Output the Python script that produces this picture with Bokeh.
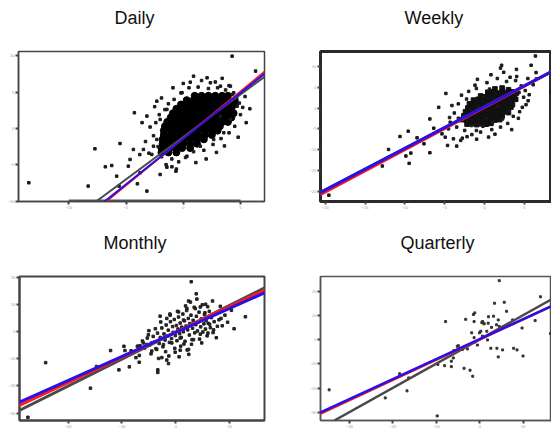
from bokeh.plotting import figure
from bokeh.layouts import column, row
from bokeh.models import FixedTicker, Slope
from bokeh.embed import file_html
from bokeh.resources import INLINE

# ---------------- Daily ----------------
daily_xticks = [-10, -5, 0, 5]
daily_yticks = [-10, -5, 0, 5, 10]
daily_points = [
    (-13.5, -7.48), (4.27, 9.96), (6.32, 7.9), (5.82, 2.71), (-7.72, -2.8), (-8.31, -7.94),
    (-5.53, -2.07), (-4.27, 2.16), (-2.31, 3.76), (-3.18, 1.7), (-6.81, -5.28), (-6.25, -5.1),
    (-5.82, -6.57), (-5.61, -7.94), (-4.8, -5.19), (-4.01, -7.62), (-3.18, -8.63), (-3.77, -6.11),
    (-4.65, -4.27), (-4.36, -2.89), (-2.75, -3.58), (-2.02, -6.34), (-0.99, -5.28), (-0.64, -5.88),
    (-1.43, -5.33), (0.61, 6.38), (2.08, 6.98), (2.37, 6.29), (3.25, 5.83), (4.12, 5.83),
    (4.41, 4.92), (4.71, 3.07), (4.12, 1.24), (3.25, 1.7), (3.54, -0.59), (2.66, -1.52),
    (1.49, -2.44), (0.32, -3.82), (4.71, 4.46), (-0.11, 4.92), (-1.43, 2.62), (-2.02, 1.24),
    (-2.31, -1.52), (-2.6, -2.44), (-3.48, -2.89),
    (-2.6, -1.0), (-2.4, 0.8), (-2.2, -2.5), (-2.1, 1.9), (-1.9, -3.9), (-1.6, 2.6), (-1.3, 3.4),
    (-1.0, -4.2), (-0.8, 4.0), (-0.4, -4.6), (-0.2, 4.9), (0.2, -4.0), (0.5, 5.6), (0.9, -3.2),
    (1.3, 5.7), (1.8, -3.0), (2.2, 5.5), (2.6, -2.2), (3.0, 5.6), (3.3, -1.4), (3.7, 5.3),
    (4.0, -0.6), (4.3, 4.7), (4.5, 0.3), (4.9, 3.5), (5.0, 1.9), (5.2, 2.9), (3.6, -2.4),
    (2.0, -4.2), (-1.5, -5.0), (-2.9, 0.2), (-3.3, -1.8), (-3.0, -3.4), (-2.5, 3.0), (0.0, 6.2),
    (1.6, 6.6), (2.8, 6.4), (4.0, 5.9), (5.4, 4.4), (5.5, 0.8), (4.8, -1.2), (2.9, -3.3),
    (1.1, -4.7), (-0.6, -5.6), (-3.8, -3.6), (-3.6, 0.8), (-1.9, 4.2), (3.4, 6.9), (0.9, 7.2),
    (-0.9, 5.6),
]
daily_core = [
    (1.0, 4.5), (1.6, 4.5), (2.2, 4.5), (2.8, 4.5), (3.4, 4.5), (3.9, 4.5),
    (0.3, 3.9), (0.9, 3.9), (1.5, 3.9), (2.1, 3.9), (2.7, 3.9), (3.3, 3.9), (3.9, 3.9), (4.5, 3.9),
    (-0.2, 3.3), (0.4, 3.3), (1.0, 3.3), (1.6, 3.3), (2.2, 3.3), (2.8, 3.3), (3.4, 3.3), (4.0, 3.3), (4.5, 3.3),
    (-0.6, 2.7), (0.0, 2.7), (0.6, 2.7), (1.2, 2.7), (1.8, 2.7), (2.4, 2.7), (3.0, 2.7), (3.6, 2.7), (4.2, 2.7),
    (-0.9, 2.1), (-0.3, 2.1), (0.3, 2.1), (0.9, 2.1), (1.5, 2.1), (2.1, 2.1), (2.7, 2.1), (3.3, 2.1), (3.9, 2.1), (4.4, 2.1),
    (-1.1, 1.5), (-0.5, 1.5), (0.1, 1.5), (0.7, 1.5), (1.3, 1.5), (1.9, 1.5), (2.5, 1.5), (3.1, 1.5), (3.7, 1.5), (4.2, 1.5),
    (-1.4, 0.9), (-0.8, 0.9), (-0.2, 0.9), (0.4, 0.9), (1.0, 0.9), (1.6, 0.9), (2.2, 0.9), (2.8, 0.9), (3.4, 0.9), (3.9, 0.9),
    (-1.6, 0.3), (-1.0, 0.3), (-0.4, 0.3), (0.2, 0.3), (0.8, 0.3), (1.4, 0.3), (2.0, 0.3), (2.6, 0.3), (3.2, 0.3),
    (-1.7, -0.3), (-1.1, -0.3), (-0.5, -0.3), (0.1, -0.3), (0.7, -0.3), (1.3, -0.3), (1.9, -0.3), (2.5, -0.3), (3.0, -0.3),
    (-1.7, -0.9), (-1.1, -0.9), (-0.5, -0.9), (0.1, -0.9), (0.7, -0.9), (1.3, -0.9), (1.9, -0.9), (2.5, -0.9),
    (-1.8, -1.5), (-1.2, -1.5), (-0.6, -1.5), (0.0, -1.5), (0.6, -1.5), (1.2, -1.5), (1.8, -1.5),
    (-1.8, -2.1), (-1.2, -2.1), (-0.6, -2.1), (0.0, -2.1), (0.6, -2.1), (1.2, -2.1),
    (-1.9, -2.7), (-1.3, -2.7), (-0.7, -2.7), (-0.1, -2.7), (0.6, -2.7),
    (-1.9, -3.3), (-1.3, -3.3), (-0.6, -3.3),
]
daily_axis_seg_x = [-10, 5]
daily_axis_seg_y = [-10, -10]
daily_slopes = [1.167, 1.292, 1.258]        # gray, red, blue
daily_intercepts = [-1.17, -1.36, -1.40]

# ---------------- Weekly ----------------
weekly_xticks = [-20, -15, -10, -5, 0, 5]
weekly_yticks = [-20, -15, -10, -5, 0, 5, 10]
weekly_points = [
    (-19.55, -20.97), (-12.84, -13.96), (-12.06, -9.97), (-10.62, -6.86), (-9.59, -5.58),
    (-9.88, -11.56), (-9.47, -13.32), (-9.26, -10.85), (-8.48, -7.18), (-7.61, -8.61),
    (-6.87, -10.77), (-6.87, -2.63), (-5.76, 0.16), (-4.86, 3.51), (-3.5, -9.17), (-4.65, -9.01),
    (-5.35, -6.22), (-4.94, -7.02), (-6.38, -4.86), (-4.53, -5.02), (-3.91, -7.42), (-2.8, -7.26),
    (6.38, 12.52), (5.84, 10.29), (2.14, 10.29), (6.46, 8.53), (8.31, 3.99), (5.47, 1.75),
    (4.24, -2.47), (5.97, 6.14), (5.43, 7.1), (4.03, 7.58), (4.32, 3.75), (4.73, 0.16),
    (2.76, 6.38), (0.62, 4.55), (-1.03, 4.7), (-2.26, 2.15), (-2.67, -1.67), (-1.65, -4.23),
    (-1.03, -5.42), (-0.21, -4.39), (1.03, -3.43), (2.26, -2.63), (3.09, -0.64), (-4.32, -3.43),
    (-3.29, -2.47),
    (-3.8, -1.2), (-3.5, -4.6), (-3.3, 1.0), (-2.9, 3.1), (-2.5, -5.4), (-2.0, 4.0), (-1.2, 5.5),
    (-0.5, -5.8), (0.3, 6.1), (0.9, -5.2), (1.6, 7.1), (2.0, -4.6), (3.2, 7.4), (2.9, -3.7),
    (3.9, 6.6), (3.6, -2.0), (4.6, 5.3), (4.4, -0.9), (4.9, 2.6), (5.1, 4.2), (5.6, 3.2),
    (5.2, 0.8), (-4.1, 0.6), (-4.4, -2.3), (-1.6, -6.4), (1.3, -6.3), (2.4, 8.6), (0.8, 8.0),
    (-0.9, 6.9), (6.1, 5.6), (3.4, -5.2), (-2.2, -6.9), (-3.0, -7.8), (-1.0, -7.5), (0.5, -7.0),
    (4.0, 9.3), (2.0, 9.6), (6.5, 7.0),
]
weekly_core = [
    (1.3, 4.6), (2.2, 4.8), (3.0, 4.4),
    (0.4, 3.8), (1.0, 3.9), (1.6, 3.6), (2.2, 3.9), (2.8, 3.7), (3.4, 3.9), (4.0, 3.6),
    (-0.5, 2.9), (0.1, 2.7), (0.7, 3.0), (1.3, 2.8), (1.9, 2.9), (2.5, 2.7), (3.1, 3.0), (3.7, 2.8),
    (-1.4, 1.9), (-0.8, 2.1), (-0.2, 1.8), (0.4, 2.0), (1.0, 1.9), (1.6, 2.1), (2.2, 1.8), (2.8, 2.0), (3.4, 1.9), (3.9, 2.1),
    (-1.9, 1.0), (-1.3, 0.8), (-0.7, 1.1), (-0.1, 0.9), (0.5, 1.0), (1.1, 0.8), (1.7, 1.1), (2.3, 0.9), (2.9, 1.0), (3.5, 0.8),
    (-2.1, 0.0), (-1.5, 0.2), (-0.9, -0.1), (-0.3, 0.1), (0.3, 0.0), (0.9, 0.2), (1.5, -0.1), (2.1, 0.1), (2.7, 0.0), (3.3, 0.2),
    (-2.4, -0.9), (-1.8, -1.1), (-1.2, -0.8), (-0.6, -1.0), (0.0, -0.9), (0.6, -1.1), (1.2, -0.8), (1.8, -1.0), (2.4, -0.9), (3.0, -1.1),
    (-2.6, -1.9), (-2.0, -1.7), (-1.4, -2.0), (-0.8, -1.8), (-0.2, -1.9), (0.4, -1.7), (1.0, -2.0), (1.6, -1.8), (2.2, -1.9),
    (-2.9, -2.8), (-2.3, -3.0), (-1.7, -2.7), (-1.1, -2.9), (-0.5, -2.8), (0.1, -3.0), (0.7, -2.7), (1.3, -2.9), (1.9, -2.8),
    (-2.2, -3.9), (-1.6, -3.7), (-1.0, -4.0), (-0.4, -3.8), (0.2, -3.9), (0.8, -3.7),
]
weekly_slopes = [1.0, 1.019, 1.003]
weekly_intercepts = [0.3, 0.19, 0.33]

# ---------------- Monthly ----------------
monthly_xticks = [-20, -10, 0, 10]
monthly_yticks = [-30, -20, -10, 0, 10, 20]
monthly_points = [
    (-27.44, -31.54), (-24.15, -11.44), (-15.84, -20.82), (-14.72, -12.89), (-12.11, -7.0),
    (-10.56, -14.1), (-9.63, -5.43), (-9.44, -7.0), (-8.63, -13.0), (-6.77, -8.8), (-6.65, -5.2),
    (-5.41, -4.8), (-5.1, -1.24), (-3.35, -14.1), (-3.35, -15.03), (-2.6, -9.6), (-1.68, -10.5),
    (-1.37, -11.8), (2.85, 18.28), (3.78, 13.83), (2.36, 11.18), (4.53, 9.0), (5.52, 10.0),
    (5.39, 6.85), (8.25, 9.25), (8.37, 4.8), (12.9, 5.4), (14.58, 12.86), (6.27, 2.64),
    (4.53, -0.97), (2.36, -6.6), (0.8, -6.87), (-0.13, -7.6), (0.8, -2.4), (-2.92, 5.64),
    (-1.06, 6.0), (-4.47, -4.2), (-3.54, -6.6), (-2.3, -4.8), (-0.75, -4.2), (1.42, 4.2),
    (2.05, 8.4), (3.6, 8.4), (0.49, 7.2), (-1.68, 4.8), (-4.47, -7.2), (-6.02, -4.2),
    (-7.14, -5.4), (5.95, -0.6), (7.0, 0.6), (3.28, -3.0),
    (-6.2, -3.5), (-5.8, -6.1), (-5.3, -2.4), (-4.9, -5.0), (-4.6, -8.2), (-4.2, -1.8),
    (-4.0, -3.9), (-3.7, -6.3), (-3.4, -0.6), (-3.1, -4.4), (-2.9, -2.2), (-2.6, 1.3),
    (-2.4, -5.6), (-2.2, -0.9), (-2.0, -3.1), (-1.8, 2.4), (-1.6, -1.7), (-1.4, 0.5),
    (-1.2, -4.0), (-1.0, 3.6), (-0.8, -2.6), (-0.6, 1.8), (-0.5, -0.3), (-0.3, 4.4),
    (-0.1, -1.5), (0.1, 2.2), (0.2, -3.4), (0.4, 0.9), (0.5, 5.3), (0.7, -0.8), (0.8, 3.1),
    (1.0, -2.2), (1.1, 1.6), (1.3, 6.4), (1.4, -0.1), (1.6, 3.9), (1.7, -3.6), (1.9, 2.0),
    (2.0, 7.7), (2.2, 0.6), (2.3, 4.8), (2.5, -1.3), (2.6, 2.9), (2.8, 6.0), (2.9, -4.7),
    (3.1, 1.2), (3.2, 4.1), (3.4, 8.9), (3.5, -0.5), (3.7, 2.5), (3.8, 5.6), (4.0, 0.2),
    (4.1, 3.4), (4.3, 7.1), (4.4, -2.8), (4.6, 1.7), (4.7, 4.6), (4.9, 9.8), (5.0, -0.2),
    (5.2, 2.8), (5.3, 6.2), (5.5, 0.9), (5.6, 4.0), (5.8, -1.6), (6.0, 3.0), (6.2, 7.4),
    (6.4, 1.4), (6.6, 5.1), (6.9, -0.4), (7.1, 3.6), (7.4, 6.7), (7.7, 1.9), (8.0, 4.3),
    (8.6, 2.1), (9.1, 6.0), (9.6, 3.4), (10.3, 7.8), (10.8, 1.0), (-0.2, -6.2), (0.9, -5.4),
    (2.1, -6.8), (-1.9, -7.4), (3.0, -3.0), (1.5, -4.6), (-2.8, 3.5), (-3.8, 1.0), (-5.0, 0.3),
    (0.3, 7.4), (1.8, 9.4), (2.7, 10.8), (3.9, 11.9), (-1.1, 6.4), (5.9, 9.1), (6.8, 11.2),
    (4.8, -4.2), (7.5, -2.3), (-7.4, -9.6), (-8.3, -7.1), (-6.8, -11.3), (-3.2, -9.9),
    (-1.3, -9.0), (0.6, -9.3), (2.4, -8.4),
]
monthly_slopes = [0.990, 0.931, 0.884]
monthly_intercepts = [-0.27, -0.17, -0.34]

# ---------------- Quarterly ----------------
quarterly_xticks = [-30, -20, -10, 0, 10]
quarterly_yticks = [-30, -20, -10, 0, 10, 20]
quarterly_points = [
    (-34.68, -20.76), (-21.77, -24.1), (-18.45, -14.07), (-16.76, -21.18), (-16.37, -15.8),
    (-9.81, -31.6), (-9.65, -10.19), (-7.88, 7.62), (-8.11, -10.72), (-6.56, -8.85),
    (-6.56, -11.1), (-6.1, -7.5), (-5.95, -4.43), (-5.18, -2.69), (-4.94, -2.42), (-3.63, -11.8),
    (-3.25, 8.56), (-2.25, -12.6), (-1.87, 2.93), (-1.63, -15.1), (-1.47, 10.56), (-1.16, 11.23),
    (-1.32, 7.62), (-1.32, -1.08), (-0.55, -2.15), (-0.08, 2.93), (0.22, 3.6), (0.46, 7.22),
    (0.61, 7.62), (0.61, 1.59), (0.84, 6.95), (1.0, 6.68), (1.61, 3.6), (2.0, 9.62),
    (1.92, 6.95), (2.54, -3.48), (3.16, 9.88), (3.39, 15.25), (3.85, 6.28), (3.93, -3.48),
    (4.24, -7.08), (4.47, 24.62), (4.47, 5.61), (5.24, -4.16), (5.62, 15.65), (6.16, 11.9),
    (7.55, 8.29), (7.79, -3.48), (8.56, -4.16), (9.72, 4.94), (9.95, -6.69), (12.73, 8.02),
    (13.96, 17.92), (16.28, 2.66), (17.58, 16.85), (1.77, -0.01), (-4.02, -4.0), (-2.86, -3.75),
    (-1.32, 0.92), (2.69, 5.21), (4.24, 8.29),
]
quarterly_slopes = [1.007, 0.84, 0.831]
quarterly_intercepts = [0.22, 0.2, 0.33]

fit_colors = ["#4a4a4a", "#ff1a1a", "#2a10e8"]


def make_panel(title, width, height, xr, yr, bl, br, bt, bb, title_offset,
               xticks, yticks, outline_w, outline_c):
    p = figure(width=width, height=height, x_range=xr, y_range=yr,
               output_backend="svg", toolbar_location=None,
               min_border_left=bl, min_border_right=br,
               min_border_top=bt, min_border_bottom=bb, title=title + "\n ")
    p.title.text_font = "Liberation Sans"
    p.title.text_font_size = "18px"
    p.title.text_font_style = "normal"
    p.title.text_color = "#111111"
    p.title.text_line_height = 1.2
    p.title.align = "left"
    p.title.offset = title_offset
    p.title.standoff = 0
    p.grid.visible = False
    p.outline_line_color = outline_c
    p.outline_line_width = outline_w
    p.background_fill_color = "white"
    p.border_fill_color = "white"
    p.xaxis.ticker = FixedTicker(ticks=xticks)
    p.yaxis.ticker = FixedTicker(ticks=yticks)
    for ax in (p.xaxis, p.yaxis):
        ax.major_label_text_font_size = "4px"
        ax.major_label_text_color = "#999999"
        ax.major_label_standoff = 1
        ax.major_tick_out = 3
        ax.major_tick_in = 0
        ax.minor_tick_out = 0
        ax.minor_tick_in = 0
        ax.major_tick_line_width = 2
        ax.major_tick_line_color = "#444444"
        ax.axis_line_color = outline_c
        ax.axis_line_width = outline_w
    return p


def add_fits(p, slopes, intercepts, width):
    for s, b, c in zip(slopes, intercepts, fit_colors):
        p.add_layout(Slope(gradient=s, y_intercept=b, line_color=c, line_width=width))


# Daily
p1 = make_panel("Daily", 306, 225, (-14.4, 7.1), (-10.06, 10.6), 18, 42, 51, 24, 96,
                daily_xticks, daily_yticks, 1.5, "#444444")
p1.scatter([pt[0] for pt in daily_core], [pt[1] for pt in daily_core],
           size=7, marker="circle", color="#000000")
p1.scatter([pt[0] for pt in daily_points], [pt[1] for pt in daily_points],
           size=2.5, marker="square", color="#1a1a1a")
p1.line(daily_axis_seg_x, daily_axis_seg_y, line_width=3, line_color="#555555")
add_fits(p1, daily_slopes, daily_intercepts, 2)

# Weekly
p2 = make_panel("Weekly", 245, 225, (-20.6, 8.4), (-22.5, 13.6), 12, 0, 51, 23, 84,
                weekly_xticks, weekly_yticks, 3, "#2a2a2a")
p2.scatter([pt[0] for pt in weekly_core], [pt[1] for pt in weekly_core],
           size=4.6, marker="square", color="#111111")
p2.scatter([pt[0] for pt in weekly_points], [pt[1] for pt in weekly_points],
           size=2.5, marker="square", color="#1a1a1a")
add_fits(p2, weekly_slopes, weekly_intercepts, 3)

# Monthly
p3 = make_panel("Monthly", 306, 205, (-29.0, 16.44), (-32.7, 20.2), 19, 42, 51, 7, 84,
                monthly_xticks, monthly_yticks, 2, "#444444")
p3.scatter([pt[0] for pt in monthly_points], [pt[1] for pt in monthly_points],
           size=2.5, marker="square", color="#222222")
add_fits(p3, monthly_slopes, monthly_intercepts, 3)

# Quarterly
p4 = make_panel("Quarterly", 245, 205, (-36.67, 16.5), (-33.5, 26.35), 11, 0, 51, 7, 80,
                quarterly_xticks, quarterly_yticks, 1.5, "#555555")
p4.scatter([pt[0] for pt in quarterly_points], [pt[1] for pt in quarterly_points],
           size=2, marker="square", color="#333333")
add_fits(p4, quarterly_slopes, quarterly_intercepts, 2.5)

layout = column(row(p1, p2, spacing=0), row(p3, p4, spacing=0), spacing=0)

with open("out.html", "w") as f:
    f.write(file_html(layout, INLINE))
